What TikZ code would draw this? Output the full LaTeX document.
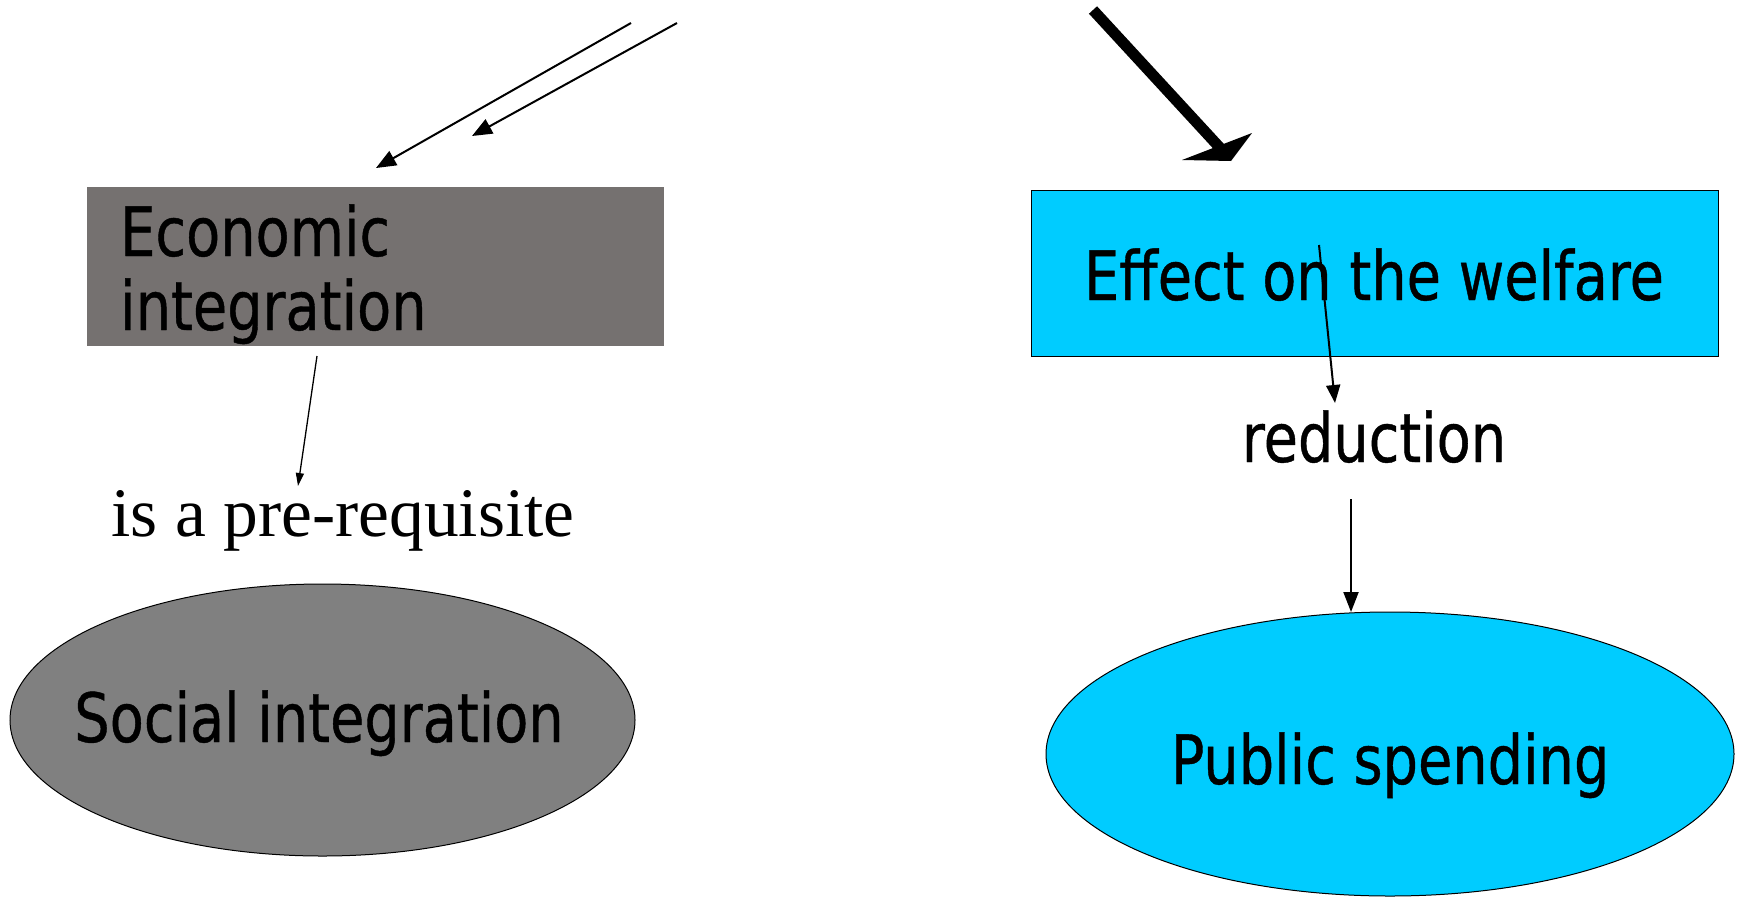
\documentclass[tikz,border=0pt]{standalone}
\usepackage{fontspec}
\newfontfamily\tah[FakeStretch=0.82,FakeBold=0.6]{DejaVu Sans}
\newfontfamily\serf{Liberation Serif}
\usetikzlibrary{arrows.meta,shapes.geometric}
\definecolor{econgray}{HTML}{757170}
\definecolor{socgray}{HTML}{808080}
\definecolor{skyblue}{HTML}{00CCFF}
\tikzset{
  bigtext/.style={font=\tah\fontsize{68}{74}\selectfont, inner sep=0pt, anchor=base},
  thinarrow/.style={draw=black, line width=2pt, -{Triangle[length=20pt,width=16pt]}},
  finearrow/.style={draw=black, line width=1.3pt, -{Triangle[length=13pt,width=8pt]}},
}
\begin{document}
\begin{tikzpicture}[x=1pt,y=-1pt]
\useasboundingbox (0,0) rectangle (1744,897);
% left side
\node[fill=econgray, minimum width=577pt, minimum height=159pt, inner sep=0pt, anchor=north west] (econ) at (87,187) {};
\node[bigtext, anchor=base west] (econ1) at (120,256) {Economic};
\node[bigtext, anchor=base west] (econ2) at (120,330) {integration};
\node[ellipse, draw=black, line width=1pt, fill=socgray, minimum width=625pt, minimum height=272pt, inner sep=0pt] (social) at (322.5,720) {};
\node[bigtext] (soctext) at (319,742) {Social integration};
\node[font=\serf\fontsize{69.5}{80}\selectfont, inner sep=0pt, anchor=base] (prereq) at (343,536) {is a pre-requisite};
\coordinate (a1s) at (631,23);
\coordinate (a1e) at (376,168);
\coordinate (a2s) at (677,23);
\coordinate (a2e) at (472,136);
\draw[thinarrow] (a1s) -- (a1e);
\draw[thinarrow] (a2s) -- (a2e);
\coordinate (pqs) at (317,356);
\coordinate (pqe) at (298,486);
\draw[finearrow] (pqs) -- (pqe);
% right side
\node[draw=black, line width=1pt, fill=skyblue, minimum width=687pt, minimum height=166pt, inner sep=0pt, anchor=north west] (effect) at (1031,190) {};
\node[bigtext] (efftext) at (1374,300) {Effect on the welfare};
\node[bigtext] (reduction) at (1374,462) {reduction};
\node[ellipse, draw=black, line width=1pt, fill=skyblue, minimum width=688pt, minimum height=284pt, inner sep=0pt] (public) at (1390,754) {};
\node[bigtext] (pubtext) at (1390,784) {Public spending};
\coordinate (es) at (1319,245);
\coordinate (ee) at (1335,403);
\draw[draw=black, line width=2pt, -{Triangle[length=18pt,width=14pt]}] (es) -- (ee);
\coordinate (rs) at (1351,499);
\coordinate (re) at (1351,612);
\draw[draw=black, line width=2pt, -{Triangle[length=20pt,width=15pt]}] (rs) -- (re);
% thick skewed arrow
\coordinate (ts) at (1093,10);
\coordinate (te) at (1222,150);
\draw[line width=11pt] (ts) -- (te);
\fill[black] (1182,160) -- (1252,133) -- (1231,161) -- cycle;
\end{tikzpicture}
\end{document}
